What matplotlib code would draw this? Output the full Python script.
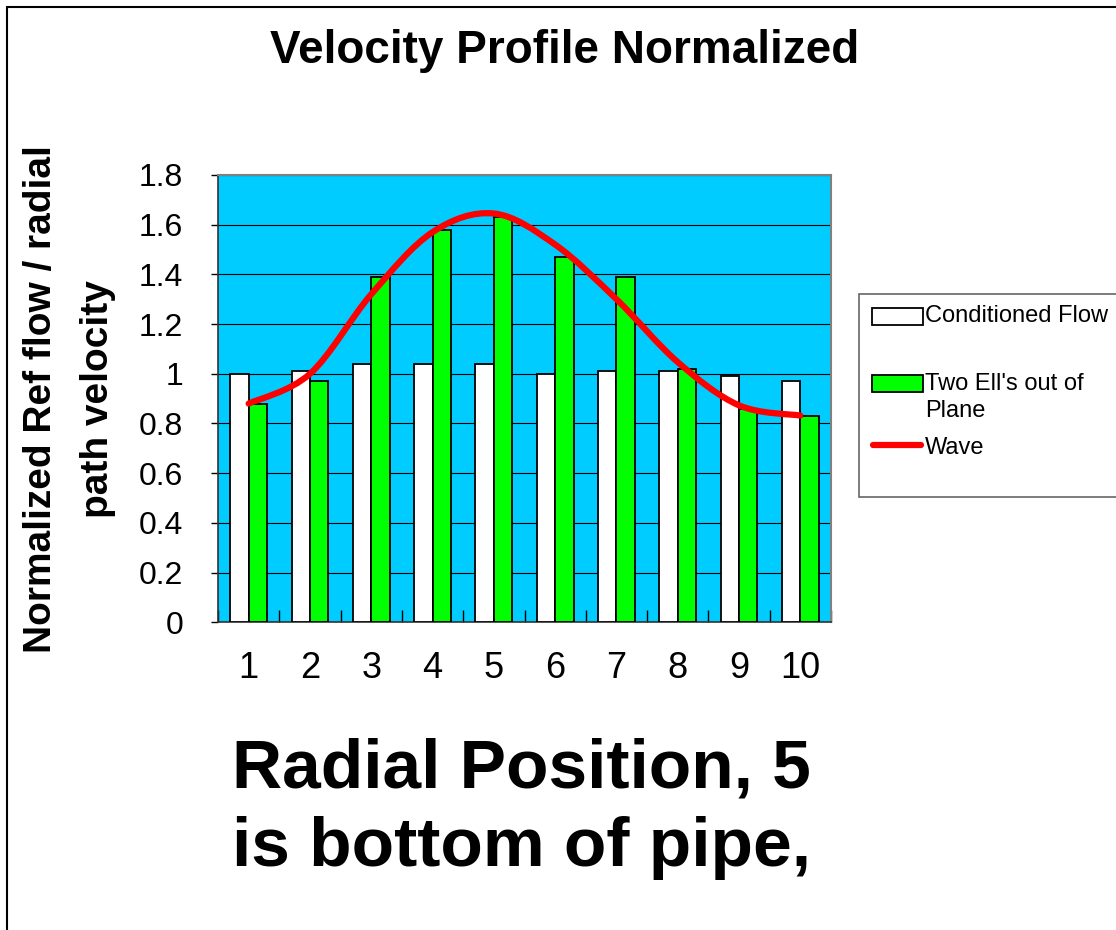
import matplotlib
matplotlib.use('Agg')
import matplotlib.pyplot as plt
from matplotlib.path import Path
from matplotlib.patches import PathPatch, Rectangle
from matplotlib.lines import Line2D
from matplotlib.ticker import FixedLocator, FuncFormatter

plt.rcParams['font.family'] = ['Liberation Sans', 'DejaVu Sans']

# data
positions = [1, 2, 3, 4, 5, 6, 7, 8, 9, 10]
conditioned = [1.00, 1.01, 1.04, 1.04, 1.04, 1.00, 1.01, 1.01, 0.99, 0.97]
two_ells = [0.88, 0.97, 1.39, 1.58, 1.63, 1.47, 1.39, 1.02, 0.86, 0.83]
wave = [0.88, 1.00, 1.32, 1.57, 1.645, 1.52, 1.30, 1.047, 0.873, 0.832]
y_ticks = [0, 0.2, 0.4, 0.6, 0.8, 1.0, 1.2, 1.4, 1.6, 1.8]
series_names = ['Conditioned Flow', "Two Ell's out of\nPlane", 'Wave']

W, H = 1116, 930
fig = plt.figure(figsize=(W / 100, H / 100), dpi=100)
fig.patch.set_facecolor('white')


def fx(px):
	return px / W


def fy(py):
	return 1 - py / H


# outer frame of the chart area
fig.add_artist(Rectangle((fx(7), -0.05), 1.2, fy(7) + 0.05, transform=fig.transFigure,
                         fill=False, edgecolor='black', linewidth=1.5))

ax = fig.add_axes([fx(218), fy(622.3), 613 / W, 447.3 / H])
ax.set_facecolor('#00CCFF')

bw = 0.3
ax.bar([p - bw / 2 for p in positions], conditioned, width=bw, color='white',
       edgecolor='black', linewidth=1.3, zorder=3)
ax.bar([p + bw / 2 for p in positions], two_ells, width=bw, color='#00FF00',
       edgecolor='black', linewidth=1.3, zorder=3)

### smoothed line, bezier segments like the spreadsheet "smoothed line"
pts = list(zip(positions, wave))
verts = [pts[0]]
codes = [Path.MOVETO]
for i in range(len(pts) - 1):
	p0 = pts[i - 1] if i > 0 else pts[i]
	p1 = pts[i]
	p2 = pts[i + 1]
	p3 = pts[i + 2] if i + 2 < len(pts) else pts[i + 1]
	c1 = (p1[0] + (p2[0] - p0[0]) / 6, p1[1] + (p2[1] - p0[1]) / 6)
	c2 = (p2[0] - (p3[0] - p1[0]) / 6, p2[1] - (p3[1] - p1[1]) / 6)
	verts += [c1, c2, p2]
	codes += [Path.CURVE4, Path.CURVE4, Path.CURVE4]
ax.add_patch(PathPatch(Path(verts, codes), facecolor='none', edgecolor='#FF0000',
                       linewidth=4.5, capstyle='round', joinstyle='round', zorder=4))

ax.set_xlim(0.5, 10.5)
ax.set_ylim(0, 1.8)
ax.yaxis.set_major_locator(FixedLocator(y_ticks))
ax.yaxis.set_major_formatter(FuncFormatter(lambda v, p: f'{v:g}'))
ax.grid(axis='y', color='black', linewidth=0.8, zorder=1)
ax.set_axisbelow(True)

ax.set_xticks(positions)
ax.set_xticklabels([str(p) for p in positions])
ax.set_xticks([p + 0.5 for p in [0] + positions], minor=True)
ax.tick_params(axis='x', which='major', length=0, pad=21, labelsize=26)
ax.tick_params(axis='x', which='minor', direction='in', length=9, width=1, color='black')
ax.tick_params(axis='y', direction='out', length=5, width=1, pad=20, labelsize=23)

for side in ['top', 'right']:
	ax.spines[side].set_color('#808080')
	ax.spines[side].set_linewidth(1.5)
for side in ['left', 'bottom']:
	ax.spines[side].set_color('#333333')
	ax.spines[side].set_linewidth(1.2)

ax.set_ylabel('Normalized Ref flow / radial\npath velocity', fontsize=28,
              fontweight='bold', linespacing=1.75)
ax.yaxis.set_label_coords((116 - 218) / 613, 0.5)

fig.text(fx(565), fy(63), 'Velocity Profile Normalized', ha='center', va='baseline',
         fontsize=33, fontweight='bold')
fig.text(fx(521), fy(787), 'Radial Position, 5', ha='center', va='baseline',
         fontsize=50, fontweight='bold')
fig.text(fx(521), fy(866), 'is bottom of pipe,', ha='center', va='baseline',
         fontsize=50, fontweight='bold')

### legend box drawn by hand to keep the spreadsheet spacing
fig.add_artist(Rectangle((fx(859), fy(497)), 0.3, (497 - 294) / H, transform=fig.transFigure,
                         facecolor='white', edgecolor='#666666', linewidth=1.2))
fig.add_artist(Rectangle((fx(872), fy(325)), 51 / W, 17 / H, transform=fig.transFigure,
                         facecolor='white', edgecolor='black', linewidth=1.3))
fig.add_artist(Rectangle((fx(872), fy(392)), 51 / W, 17 / H, transform=fig.transFigure,
                         facecolor='#00FF00', edgecolor='black', linewidth=1.3))
fig.add_artist(Line2D([fx(873), fx(921)], [fy(445), fy(445)], transform=fig.transFigure,
                      color='#FF0000', linewidth=4.5, solid_capstyle='round'))
legend_text_y = [316, 384, 448.5]
for name, ty in zip(series_names, legend_text_y):
	first, *rest = name.split('\n')
	fig.text(fx(925), fy(ty), first, ha='left', va='center', fontsize=17)
	for k, line in enumerate(rest):
		fig.text(fx(925), fy(ty + 27 * (k + 1)), line, ha='left', va='center', fontsize=17)

fig.savefig('out.png', dpi=100)
